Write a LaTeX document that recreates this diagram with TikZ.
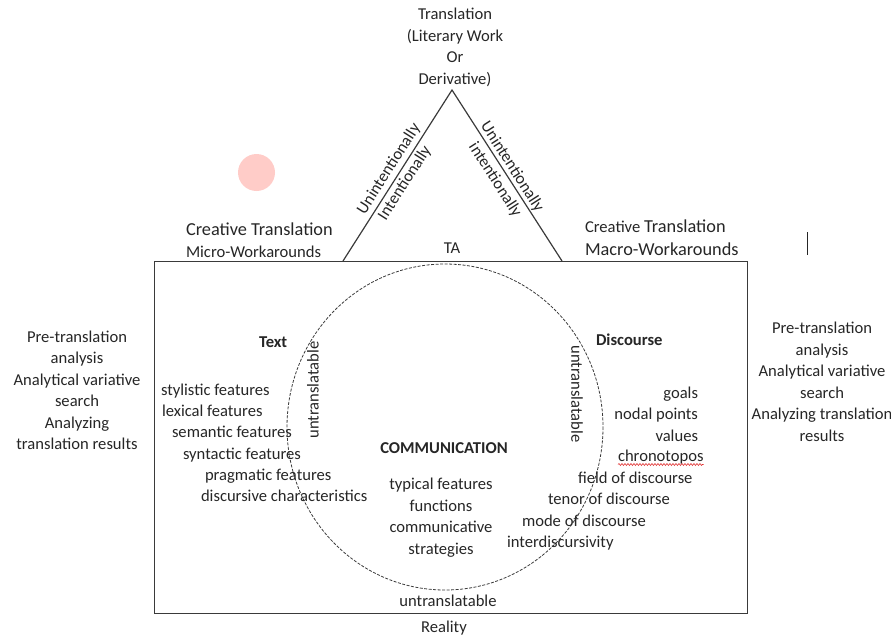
\documentclass[tikz,border=0pt]{standalone}
\usepackage{fontspec}
\setmainfont{Carlito}
\usetikzlibrary{decorations.pathmorphing,calc}
\definecolor{ink}{HTML}{262626}
\definecolor{linegray}{HTML}{3A3A3A}
\definecolor{pinkdot}{HTML}{FFCCC8}
\definecolor{wavyred}{HTML}{E03030}
\begin{document}
\begin{tikzpicture}[x=1pt,y=-1pt,
  lbl/.style={inner sep=0pt, outer sep=0pt, text=ink, font=\fontsize{16.6}{21.5}\selectfont},
  big/.style={lbl, font=\fontsize{18.3}{21.5}\selectfont},
  hdr/.style={lbl, font=\fontsize{16.6}{21.5}\selectfont\bfseries},
  block/.style={lbl, align=center},
  frameline/.style={draw=linegray, line width=1.2pt},
  triline/.style={draw=linegray, line width=1.2pt},
  ring/.style={draw=linegray, line width=0.8pt, dash pattern=on 3pt off 1.5pt}
]
\useasboundingbox (0,0) rectangle (891,635);

% outer frame
\node[frameline, anchor=north west, minimum width=593pt, minimum height=352pt, inner sep=0pt] (frame) at (154,261) {};

% triangle
\coordinate (apex) at (452,90);
\coordinate (bl) at (343,261);
\coordinate (br) at (562,261);
\draw[triline] (bl) -- (apex) -- (br);

% dashed circle
\draw[ring] (445,427) ellipse [x radius=158, y radius=163];

% pink dot
\node[circle, fill=pinkdot, minimum size=37pt, inner sep=0pt] (dot) at (256.5,172.5) {};

% small vertical bar
\coordinate (bar1) at (807,232);
\coordinate (bar2) at (807,255);
\draw[draw=ink, line width=1pt] (bar1) -- (bar2);

% top label (base anchor = last line baseline)
\node[block, anchor=base] (top) at (455,84) {Translation\\(Literary Work\\Or\\Derivative)};

% triangle side labels
\node[lbl, rotate=57.5] (lu) at (389,169) {Unintentionally};
\node[lbl, rotate=57.5] (li) at (405,183) {Intentionally};
\node[lbl, rotate=-57.3] (ru) at (512,167) {Unintentionally};
\node[lbl, rotate=-57.3] (ri) at (495,180) {intentionally};
\node[lbl, anchor=base] (ta) at (452,253) {TA};

% creative translation labels
\node[big, anchor=base west] (ctl) at (186,235) {Creative Translation};
\node[lbl, anchor=base west] (micro) at (186,257) {Micro-Workarounds};
\node[lbl, anchor=base west] (ctr) at (585,232) {Creative {\fontsize{18.3}{21.5}\selectfont Translation}};
\node[big, anchor=base west] (macro) at (585,255) {Macro-Workarounds};

% side blocks
\node[block, anchor=base] (leftblk) at (77,449.5) {Pre-translation\\analysis\\Analytical variative\\search\\Analyzing\\translation results};
\node[block, anchor=base] (rightblk) at (822,441) {Pre-translation\\analysis\\Analytical variative\\search\\Analyzing translation\\results};

% Text side
\node[hdr, anchor=base west] (text) at (259,347) {Text};
\node[lbl, rotate=90] (untl) at (313,390) {untranslatable};
\node[lbl, anchor=base west] (sty) at (161,395) {stylistic features};
\node[lbl, anchor=base west] (lex) at (162,416) {lexical features};
\node[lbl, anchor=base west] (sem) at (172,437) {semantic features};
\node[lbl, anchor=base west] (syn) at (183,459) {syntactic features};
\node[lbl, anchor=base west] (prag) at (205,480) {pragmatic features};
\node[lbl, anchor=base west] (disc) at (201,501) {discursive characteristics};

% Discourse side
\node[hdr, anchor=base west] (discourse) at (596,345) {Discourse};
\node[lbl, rotate=-90] (untr) at (577,394) {untranslatable};
\node[lbl, anchor=base east] (goals) at (698,398) {goals};
\node[lbl, anchor=base east] (nodal) at (698,419) {nodal points};
\node[lbl, anchor=base east] (values) at (698,441) {values};
\node[lbl, anchor=base west] (chrono) at (618,461) {chronotopos};
\draw[wavyred, line width=0.6pt, decorate, decoration={snake, amplitude=1pt, segment length=3pt}]
  ($(chrono.base west)+(0,3.5)$) -- ($(chrono.base east)+(0,3.5)$);
\node[lbl, anchor=base west] (field) at (578,483) {field of discourse};
\node[lbl, anchor=base west] (tenor) at (548,504) {tenor of discourse};
\node[lbl, anchor=base west] (mode) at (522,526) {mode of discourse};
\node[lbl, anchor=base west] (inter) at (507,547) {interdiscursivity};

% Communication centre
\node[hdr, anchor=base] (comm) at (444,453) {COMMUNICATION};
\node[block, anchor=base] (commblk) at (441,554) {typical features\\functions\\communicative\\strategies};
\node[lbl, anchor=base] (untb) at (448,606) {untranslatable};
\node[lbl, anchor=base] (reality) at (444,632) {Reality};
\end{tikzpicture}
\end{document}
